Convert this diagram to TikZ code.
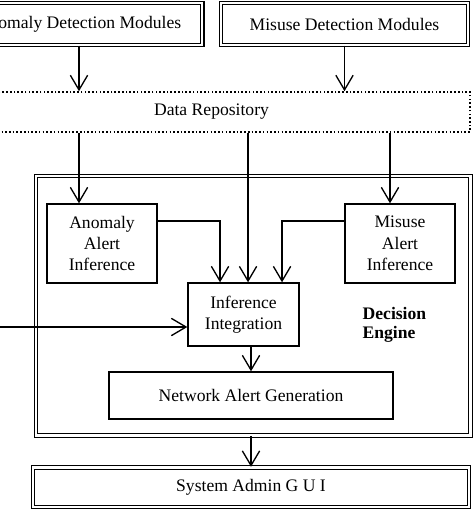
\documentclass[tikz,border=0pt]{standalone}
\usepackage{fontspec}
\setmainfont{Liberation Serif}
\usepackage{tikz}
\usetikzlibrary{arrows.meta}
\tikzset{
	main box/.style={rectangle,draw,line width=1.05pt,align=center,inner sep=2pt},
	double box/.style={main box,double,double distance=1.6pt},
	repo box/.style={rectangle,draw,line width=1.2pt,dash pattern=on 1.2pt off 1.6pt},
	label text/.style={font=\fontsize{13.2}{14.5}\selectfont\bfseries,align=left,inner sep=0pt}
}

\begin{document}
\begin{tikzpicture}[x=0.75pt,y=-0.75pt,->,>={Straight Barb[length=11pt,width=13pt]},line width=1pt,
            every node/.style={font=\fontsize{13.2}{16.1}\selectfont}]
            \useasboundingbox (0,0) rectangle (474,511);
            \node [double box,minimum width=185pt,minimum height=31.5pt] (1) at (79,24) {Anomaly Detection Modules};
            \node [double box,minimum width=185.25pt,minimum height=31.5pt] (2) at (344.5,24) {Misuse Detection Modules};
            \node [repo box,minimum width=387.75pt,minimum height=30pt] (3) at (211.5,112) {Data Repository};
            \node [double box,minimum width=325.9pt,minimum height=194.6pt] (4) at (253.25,305.75) {};
            \node [main box,minimum width=82.5pt,minimum height=59.25pt] (5) at (102,243.5) {Anomaly\\Alert\\Inference};
            \node [main box,minimum width=82.5pt,minimum height=59.25pt] (6) at (400,243.5) {Misuse\\Alert\\Inference};
            \node [main box,minimum width=83.25pt,minimum height=47.25pt] (7) at (243.5,314.5) {Inference\\Integration};
            \node [main box,minimum width=213pt,minimum height=35.25pt] (8) at (251,395.5) {Network Alert Generation};
            \node [double box,minimum width=327pt,minimum height=29.6pt] (9) at (251,487.25) {System Admin G U I};
            \node [label text,anchor=west] (10) at (362,325) {Decision\\Engine};
            \coordinate (11) at (-5,327);
            \coordinate (12) at ([xshift=3.4pt]7.north);
            \coordinate (13) at ([xshift=-7.5pt]6.north);
            \draw (1.south) -- (1.south |- 3.north);
            \draw (2.south) -- (2.south |- 3.north);
            \draw (1.south |- 3.south) -- (1.south |- 5.north);
            \draw (12 |- 3.south) -- (12);
            \draw (13 |- 3.south) -- (13);
            \draw ([yshift=16.9pt]5.east) -| ([xshift=-17.6pt]7.north);
            \draw ([yshift=16.9pt]6.west) -| ([xshift=28.9pt]7.north);
            \draw (11) -- (11 -| 7.west);
            \draw (7.south -| 8.north) -- (8.north);
            \draw (8.south |- 4.south) -- (9.north);
          \end{tikzpicture}
\end{document}
